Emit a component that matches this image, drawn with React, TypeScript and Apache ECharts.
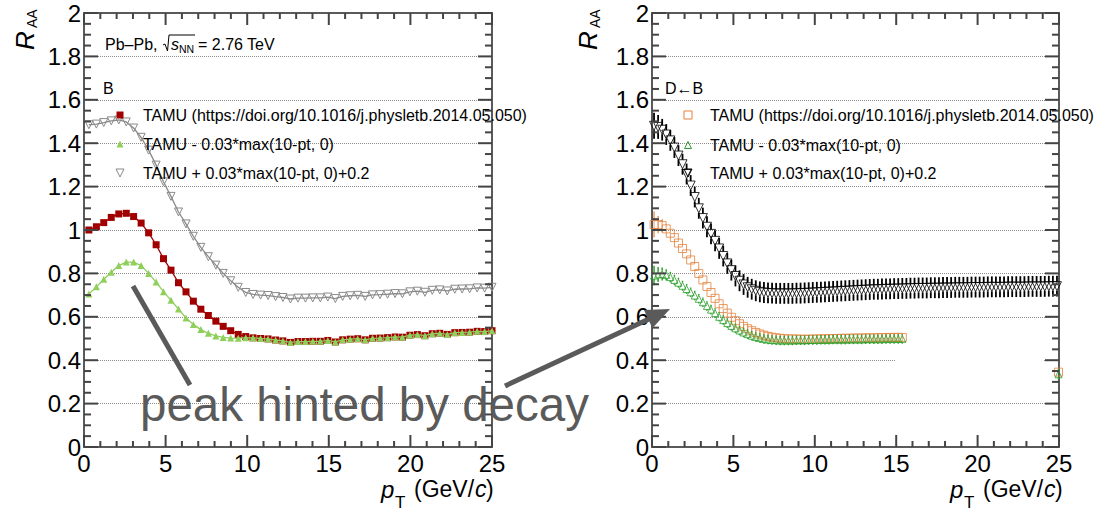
import React, { useEffect, useRef } from "react";
import * as echarts from "echarts";

const FONT = "'Liberation Sans', Arial, Helvetica, sans-serif";

// ---------- Axis tick positions ----------
const xMajorTicks = [0, 5, 10, 15, 20, 25];
const xMinorTicks = [1, 2, 3, 4, 6, 7, 8, 9, 11, 12, 13, 14, 16, 17, 18, 19, 21, 22, 23, 24];
const yMajorTicks = [0, 0.2, 0.4, 0.6, 0.8, 1, 1.2, 1.4, 1.6, 1.8, 2];
const yMinorTicks = [
  0.05, 0.1, 0.15, 0.25, 0.3, 0.35, 0.45, 0.5, 0.55, 0.65, 0.7, 0.75, 0.85, 0.9, 0.95, 1.05, 1.1, 1.15,
  1.25, 1.3, 1.35, 1.45, 1.5, 1.55, 1.65, 1.7, 1.75, 1.85, 1.9, 1.95,
];

// ---------- Left panel (B) ----------
const leftPt = [
  0.3, 0.76, 1.21, 1.67, 2.13, 2.59, 3.04, 3.5, 3.96, 4.42, 4.87, 5.33, 5.79, 6.25, 6.7, 7.16, 7.62, 8.08,
  8.53, 8.99, 9.45, 9.91, 10.36, 10.82, 11.28, 11.74, 12.19, 12.65, 13.11, 13.57, 14.02, 14.48, 14.94,
  15.4, 15.85, 16.31, 16.77, 17.23, 17.68, 18.14, 18.6, 19.06, 19.51, 19.97, 20.43, 20.89, 21.34, 21.8,
  22.26, 22.72, 23.17, 23.63, 24.09, 24.55, 25.0,
];
const leftTamu = [
  1.0, 1.015, 1.034, 1.058, 1.074, 1.077, 1.062, 1.032, 0.987, 0.932, 0.868, 0.815, 0.757, 0.715, 0.672,
  0.635, 0.606, 0.58, 0.556, 0.536, 0.519, 0.509, 0.503, 0.5, 0.498, 0.493, 0.489, 0.482, 0.486, 0.486,
  0.487, 0.487, 0.491, 0.484, 0.494, 0.497, 0.499, 0.494, 0.501, 0.502, 0.504, 0.507, 0.506, 0.515, 0.518,
  0.513, 0.522, 0.524, 0.519, 0.527, 0.528, 0.529, 0.533, 0.532, 0.536,
];
const leftLower = [
  0.705, 0.738, 0.773, 0.805, 0.836, 0.852, 0.852, 0.836, 0.8, 0.76, 0.716, 0.676, 0.636, 0.595, 0.565,
  0.541, 0.524, 0.512, 0.505, 0.502, 0.501, 0.504, 0.503, 0.5, 0.498, 0.493, 0.489, 0.482, 0.486, 0.486,
  0.487, 0.487, 0.491, 0.484, 0.494, 0.497, 0.499, 0.494, 0.501, 0.502, 0.504, 0.507, 0.506, 0.515, 0.518,
  0.513, 0.522, 0.524, 0.519, 0.527, 0.528, 0.529, 0.533, 0.532, 0.536,
];
const leftUpper = [
  1.485, 1.488, 1.495, 1.503, 1.507, 1.498, 1.47, 1.427, 1.368, 1.299, 1.222, 1.155, 1.083, 1.028, 0.971,
  0.92, 0.877, 0.838, 0.8, 0.766, 0.736, 0.712, 0.703, 0.7, 0.698, 0.693, 0.689, 0.682, 0.686, 0.686, 0.687,
  0.687, 0.691, 0.684, 0.694, 0.697, 0.699, 0.694, 0.701, 0.702, 0.704, 0.707, 0.706, 0.715, 0.718, 0.713,
  0.722, 0.724, 0.719, 0.727, 0.728, 0.729, 0.733, 0.732, 0.736,
];

// ---------- Right panel (D<-B) ----------
const rightPt = [
  0.125, 0.375, 0.625, 0.875, 1.125, 1.375, 1.625, 1.875, 2.125, 2.375, 2.625, 2.875, 3.125, 3.375, 3.625,
  3.875, 4.125, 4.375, 4.625, 4.875, 5.125, 5.375, 5.625, 5.875, 6.125, 6.375, 6.625, 6.875, 7.125, 7.375,
  7.625, 7.875, 8.125, 8.375, 8.625, 8.875, 9.125, 9.375, 9.625, 9.875, 10.125, 10.375, 10.625, 10.875,
  11.125, 11.375, 11.625, 11.875, 12.125, 12.375, 12.625, 12.875, 13.125, 13.375, 13.625, 13.875, 14.125,
  14.375, 14.625, 14.875, 15.125, 15.375, 15.625, 15.875, 16.125, 16.375, 16.625, 16.875, 17.125, 17.375,
  17.625, 17.875, 18.125, 18.375, 18.625, 18.875, 19.125, 19.375, 19.625, 19.875, 20.125, 20.375, 20.625,
  20.875, 21.125, 21.375, 21.625, 21.875, 22.125, 22.375, 22.625, 22.875, 23.125, 23.375, 23.625, 23.875,
  24.125, 24.375, 24.625, 24.875,
];
const rightTamu = [
  1.025, 1.025, 1.02, 1.005, 0.985, 0.965, 0.94, 0.915, 0.89, 0.862, 0.832, 0.8, 0.77, 0.74, 0.712, 0.685,
  0.66, 0.638, 0.617, 0.598, 0.582, 0.568, 0.556, 0.545, 0.536, 0.528, 0.521, 0.515, 0.51, 0.506, 0.503,
  0.501, 0.499, 0.498, 0.498, 0.497, 0.497, 0.496, 0.497, 0.497, 0.498, 0.498, 0.499, 0.499, 0.5, 0.5,
  0.501, 0.501, 0.501, 0.502, 0.502, 0.502, 0.503, 0.503, 0.503, 0.504, 0.504, 0.504, 0.505, 0.505, 0.505,
  0.505,
];
const rightTamuErr = [
  0.06, 0.04, 0.03, 0.02, 0.016, 0.015, 0.015, 0.015, 0.014, 0.014, 0.014, 0.013, 0.013, 0.013, 0.013,
  0.012, 0.012, 0.012, 0.012, 0.012, 0.012, 0.012, 0.012, 0.012, 0.012, 0.012, 0.012, 0.012, 0.012, 0.012,
  0.012, 0.012, 0.012, 0.012, 0.012, 0.012, 0.012, 0.012, 0.012, 0.012, 0.012, 0.012, 0.012, 0.012, 0.012,
  0.012, 0.012, 0.012, 0.012, 0.012, 0.012, 0.012, 0.012, 0.012, 0.012, 0.012, 0.012, 0.012, 0.012, 0.012,
  0.012, 0.012,
];
const rightLower = [
  0.79, 0.795, 0.797, 0.793, 0.783, 0.77, 0.757, 0.743, 0.728, 0.713, 0.698, 0.683, 0.667, 0.65, 0.633,
  0.617, 0.6, 0.585, 0.571, 0.558, 0.547, 0.537, 0.528, 0.52, 0.513, 0.507, 0.502, 0.498, 0.495, 0.493,
  0.492, 0.491, 0.491, 0.491, 0.491, 0.492, 0.492, 0.492, 0.493, 0.493, 0.493, 0.494, 0.494, 0.494, 0.495,
  0.495, 0.495, 0.495, 0.496, 0.496, 0.496, 0.496, 0.497, 0.497, 0.497, 0.497, 0.497, 0.498, 0.498, 0.498,
  0.498, 0.498,
];
const rightLowerErr = [
  0.045, 0.035, 0.03, 0.026, 0.024, 0.024, 0.023, 0.023, 0.023, 0.022, 0.022, 0.022, 0.022, 0.022, 0.022,
  0.022, 0.022, 0.022, 0.022, 0.022, 0.022, 0.022, 0.022, 0.022, 0.022, 0.022, 0.022, 0.022, 0.022, 0.022,
  0.022, 0.022, 0.022, 0.022, 0.022, 0.022, 0.022, 0.022, 0.022, 0.022, 0.022, 0.022, 0.022, 0.022, 0.022,
  0.022, 0.022, 0.022, 0.022, 0.022, 0.022, 0.022, 0.022, 0.022, 0.022, 0.022, 0.022, 0.022, 0.022, 0.022,
  0.022, 0.022,
];
const rightUpper = [
  1.48, 1.475, 1.462, 1.44, 1.413, 1.38, 1.343, 1.303, 1.258, 1.205, 1.152, 1.1, 1.055, 1.015, 0.982, 0.95,
  0.915, 0.88, 0.846, 0.815, 0.788, 0.766, 0.749, 0.736, 0.727, 0.72, 0.715, 0.712, 0.71, 0.709, 0.708,
  0.708, 0.708, 0.708, 0.708, 0.709, 0.709, 0.71, 0.711, 0.712, 0.713, 0.714, 0.715, 0.716, 0.717, 0.718,
  0.719, 0.72, 0.721, 0.722, 0.723, 0.724, 0.725, 0.726, 0.727, 0.727, 0.728, 0.729, 0.729, 0.73, 0.73,
  0.731, 0.731, 0.732, 0.732, 0.733, 0.733, 0.733, 0.734, 0.734, 0.734, 0.735, 0.735, 0.735, 0.736, 0.736,
  0.736, 0.736, 0.737, 0.737, 0.737, 0.737, 0.738, 0.738, 0.738, 0.738, 0.738, 0.739, 0.739, 0.739, 0.739,
  0.739, 0.74, 0.74, 0.74, 0.74, 0.74, 0.741, 0.741, 0.741,
];
const rightUpperErr = [
  0.06, 0.055, 0.05, 0.048, 0.048, 0.048, 0.048, 0.048, 0.048, 0.048, 0.048, 0.048, 0.048, 0.048, 0.048,
  0.048, 0.048, 0.048, 0.048, 0.048, 0.048, 0.048, 0.048, 0.048, 0.048, 0.048, 0.048, 0.048, 0.048, 0.048,
  0.048, 0.048, 0.048, 0.048, 0.048, 0.048, 0.048, 0.048, 0.048, 0.048, 0.048, 0.048, 0.048, 0.048, 0.048,
  0.048, 0.048, 0.048, 0.048, 0.048, 0.048, 0.048, 0.048, 0.048, 0.048, 0.048, 0.048, 0.048, 0.048, 0.048,
  0.048, 0.048, 0.048, 0.048, 0.048, 0.048, 0.048, 0.048, 0.048, 0.048, 0.048, 0.048, 0.048, 0.048, 0.048,
  0.048, 0.048, 0.048, 0.048, 0.048, 0.048, 0.048, 0.048, 0.048, 0.048, 0.048, 0.048, 0.048, 0.048, 0.048,
  0.048, 0.048, 0.048, 0.048, 0.048, 0.048, 0.048, 0.048, 0.048, 0.048,
];
// lone points at the right edge of the D<-B panel
const rightTailPt = [24.97];
const rightTailTamu = [0.345];
const rightTailTamuErr = [0.01];
const rightTailLower = [0.335];
const rightTailLowerErr = [0.025];

const legendLabels = [
  "TAMU (https://doi.org/10.1016/j.physletb.2014.05.050)",
  "TAMU - 0.03*max(10-pt, 0)",
  "TAMU + 0.03*max(10-pt, 0)+0.2",
];

const C_RED = "#a00000";
const C_LGREEN = "#8fcf5c";
const C_GRAY = "#8a8a8a";
const C_ORANGE = "#e3823c";
const C_GREEN = "#2ca02c";
const C_BLACK = "#000000";
const C_AXIS = "#5a5a5a";
const C_TICK = "#444444";
const C_NOTE = "#5a5a5a";

const X_MIN = 0;
const X_MAX = 25;
const Y_MIN = 0;
const Y_MAX = 2;

const pairs = (xs: number[], ys: number[]) => ys.map((y, i) => [xs[i], y]);
const triples = (xs: number[], ys: number[], es: number[]) => ys.map((y, i) => [xs[i], y, es[i]]);

const errRender = (color: string, width: number, gap: number) => (params: any, api: any) => {
  const x = api.value(0);
  const y = api.value(1);
  const e = api.value(2);
  const top = api.coord([x, y + e]);
  const mid = api.coord([x, y]);
  const bot = api.coord([x, y - e]);
  const children: any[] = [];
  if (mid[1] - gap > top[1]) {
    children.push({
      type: "line",
      shape: { x1: top[0], y1: top[1], x2: mid[0], y2: mid[1] - gap },
      style: { stroke: color, lineWidth: width },
    });
  }
  if (bot[1] > mid[1] + gap) {
    children.push({
      type: "line",
      shape: { x1: mid[0], y1: mid[1] + gap, x2: bot[0], y2: bot[1] },
      style: { stroke: color, lineWidth: width },
    });
  }
  return { type: "group", children };
};

const txt = (
  x: number,
  y: number,
  text: string,
  size: number,
  opts: { italic?: boolean; align?: string; color?: string; rotation?: number } = {}
) => ({
  type: "text",
  x,
  y,
  z: 20,
  rotation: opts.rotation || 0,
  silent: true,
  style: {
    text,
    fill: opts.color || "#000",
    font: `${opts.italic ? "italic " : ""}${size}px ${FONT}`,
    textAlign: opts.align || "left",
    align: opts.align || "left",
    textVerticalAlign: "middle",
    verticalAlign: "middle",
  },
});

const triPts = (cx: number, cy: number, s: number, down: boolean) =>
  down
    ? [
        [cx - s / 2, cy - s / 2],
        [cx + s / 2, cy - s / 2],
        [cx, cy + s / 2],
      ]
    : [
        [cx, cy - s / 2],
        [cx + s / 2, cy + s / 2],
        [cx - s / 2, cy + s / 2],
      ];

const axisLineStyle = { color: C_AXIS, width: 2 };

const xAxisBase = (gridIndex: number, position: "top" | "bottom", labels: boolean) => ({
  type: "value",
  gridIndex,
  position,
  min: X_MIN,
  max: X_MAX,
  interval: 5,
  axisLine: { show: true, onZero: false, lineStyle: axisLineStyle },
  axisTick: { show: false },
  minorTick: { show: false },
  splitLine: { show: false },
  axisLabel: { show: labels, fontSize: 24, fontFamily: FONT, color: "#000", margin: 4 },
});

const yAxisBase = (gridIndex: number, position: "left" | "right", labels: boolean) => ({
  type: "value",
  gridIndex,
  position,
  min: Y_MIN,
  max: Y_MAX,
  interval: 0.2,
  axisLine: { show: true, onZero: false, lineStyle: axisLineStyle },
  axisTick: { show: false },
  minorTick: { show: false },
  splitLine: { show: labels, lineStyle: { type: "dotted", color: "#8c8c8c", width: 1 } },
  axisLabel: { show: labels, fontSize: 24, fontFamily: FONT, color: "#000", margin: 3 },
});

function buildGraphic(): any[] {
  return [
    { type: "rect", z: 1, silent: true, shape: { x: 896, y: 356, width: 148, height: 8 }, style: { fill: "#fff" } },

    txt(25, 50, "R", 26, { italic: true, rotation: Math.PI / 2 }),
    txt(32, 28, "AA", 14, { rotation: Math.PI / 2 }),
    txt(588, 50, "R", 26, { italic: true, rotation: Math.PI / 2 }),
    txt(595, 28, "AA", 14, { rotation: Math.PI / 2 }),

    txt(381, 489, "p", 24, { italic: true }),
    txt(395, 502, "T", 17),
    txt(414, 489, "(GeV/", 23),
    txt(475, 489, "c", 23, { italic: true }),
    txt(486, 489, ")", 23),
    txt(950, 489, "p", 24, { italic: true }),
    txt(964, 502, "T", 17),
    txt(983, 489, "(GeV/", 23),
    txt(1044, 489, "c", 23, { italic: true }),
    txt(1055, 489, ")", 23),

    txt(105, 44, "Pb\u2013Pb,", 16),
    {
      type: "polyline",
      z: 20,
      silent: true,
      shape: { points: [[163, 45], [165, 44], [167.5, 51], [169, 35], [195, 35]] },
      style: { stroke: "#000", lineWidth: 1, fill: null },
    },
    txt(171, 44, "s", 16, { italic: true }),
    txt(179, 49, "NN", 10.5),
    txt(198, 44, "= 2.76 TeV", 16),
    txt(103, 88, "B", 16),

    { type: "rect", z: 20, silent: true, shape: { x: 116.5, y: 111.5, width: 7, height: 7 }, style: { fill: C_RED } },
    { type: "polygon", z: 20, silent: true, shape: { points: triPts(120, 144, 7, false) }, style: { fill: C_LGREEN } },
    {
      type: "polygon",
      z: 20,
      silent: true,
      shape: { points: triPts(120, 173, 8, true) },
      style: { fill: null, stroke: C_GRAY, lineWidth: 1 },
    },
    txt(143, 115, legendLabels[0], 16),
    txt(143, 144, legendLabels[1], 16),
    txt(143, 173, legendLabels[2], 16),

    txt(665, 88, "D\u2190B", 16),
    {
      type: "rect",
      z: 20,
      silent: true,
      shape: { x: 684, y: 111, width: 8, height: 8 },
      style: { fill: null, stroke: C_ORANGE, lineWidth: 1 },
    },
    {
      type: "polygon",
      z: 20,
      silent: true,
      shape: { points: triPts(688, 145, 7, false) },
      style: { fill: null, stroke: C_GREEN, lineWidth: 1 },
    },
    {
      type: "polygon",
      z: 20,
      silent: true,
      shape: { points: triPts(688, 173, 8, true) },
      style: { fill: null, stroke: C_BLACK, lineWidth: 1 },
    },
    txt(710, 115, legendLabels[0], 16),
    txt(710, 145, legendLabels[1], 16),
    txt(710, 173, legendLabels[2], 16),

    {
      type: "line",
      z: 30,
      silent: true,
      shape: { x1: 133, y1: 286, x2: 190, y2: 385 },
      style: { stroke: C_NOTE, lineWidth: 5 },
    },
    {
      type: "line",
      z: 30,
      silent: true,
      shape: { x1: 505, y1: 386, x2: 650, y2: 318.4 },
      style: { stroke: C_NOTE, lineWidth: 5 },
    },
    {
      type: "polygon",
      z: 30,
      silent: true,
      shape: { points: [[670, 309], [652.4, 328.3], [644.0, 310.1]] },
      style: { fill: C_NOTE },
    },
    { ...txt(140, 404, "peak hinted by decay", 47.5, { color: C_NOTE }), z: 30 },
  ];
}

// ROOT-style inward ticks on all four frame sides, placed through the chart's own axis scales
function buildTicks(chart: any, xAxisIndex: number, yAxisIndex: number): any[] {
  const px = (v: number) => chart.convertToPixel({ xAxisIndex }, v) as number;
  const py = (v: number) => chart.convertToPixel({ yAxisIndex }, v) as number;
  const xl = px(X_MIN);
  const xr = px(X_MAX);
  const yb = py(Y_MIN);
  const yt = py(Y_MAX);
  const els: any[] = [];
  const add = (x1: number, y1: number, x2: number, y2: number) =>
    els.push({
      type: "line",
      z: 15,
      silent: true,
      shape: { x1, y1, x2, y2 },
      style: { stroke: C_TICK, lineWidth: 2 },
    });
  const xt = (v: number, len: number) => {
    const x = px(v);
    add(x, yb, x, yb - len);
    add(x, yt, x, yt + len);
  };
  const yt2 = (v: number, len: number) => {
    const y = py(v);
    add(xl, y, xl + len, y);
    add(xr, y, xr - len, y);
  };
  xMajorTicks.forEach((v) => xt(v, 12));
  xMinorTicks.forEach((v) => xt(v, 6));
  yMajorTicks.forEach((v) => yt2(v, 14));
  yMinorTicks.forEach((v) => yt2(v, 7));
  return els;
}

function buildOption(): any {
  const series: any[] = [
    // Left panel
    {
      type: "line",
      name: "B upper",
      xAxisIndex: 0,
      yAxisIndex: 0,
      data: pairs(leftPt, leftUpper),
      symbol: "triangle",
      symbolRotate: 180,
      symbolSize: 8,
      showSymbol: true,
      itemStyle: { color: "rgba(255,255,255,0)", borderColor: C_GRAY, borderWidth: 1 },
      lineStyle: { color: C_GRAY, width: 1.3 },
      z: 3,
    },
    {
      type: "line",
      name: "B TAMU",
      xAxisIndex: 0,
      yAxisIndex: 0,
      data: pairs(leftPt, leftTamu),
      symbol: "rect",
      symbolSize: 7,
      showSymbol: true,
      itemStyle: { color: C_RED },
      lineStyle: { color: C_RED, width: 1.3 },
      z: 4,
    },
    {
      type: "line",
      name: "B lower",
      xAxisIndex: 0,
      yAxisIndex: 0,
      data: pairs(leftPt, leftLower),
      symbol: "triangle",
      symbolSize: 7,
      showSymbol: true,
      itemStyle: { color: C_LGREEN },
      lineStyle: { color: C_LGREEN, width: 1.3 },
      z: 5,
    },
    // Right panel: error bars + markers
    {
      type: "custom",
      name: "DB TAMU err",
      xAxisIndex: 2,
      yAxisIndex: 2,
      renderItem: errRender(C_ORANGE, 1.2, 4),
      data: triples(rightPt, rightTamu, rightTamuErr).concat(
        triples(rightTailPt, rightTailTamu, rightTailTamuErr)
      ),
      z: 3,
    },
    {
      type: "scatter",
      name: "DB TAMU",
      xAxisIndex: 2,
      yAxisIndex: 2,
      data: pairs(rightPt, rightTamu).concat(pairs(rightTailPt, rightTailTamu)),
      symbol: "rect",
      symbolSize: 8,
      itemStyle: { color: "rgba(255,255,255,0)", borderColor: C_ORANGE, borderWidth: 1 },
      z: 4,
    },
    {
      type: "custom",
      name: "DB lower err",
      xAxisIndex: 2,
      yAxisIndex: 2,
      renderItem: errRender(C_GREEN, 1.5, 3.5),
      data: triples(rightPt, rightLower, rightLowerErr).concat(
        triples(rightTailPt, rightTailLower, rightTailLowerErr)
      ),
      z: 5,
    },
    {
      type: "scatter",
      name: "DB lower",
      xAxisIndex: 2,
      yAxisIndex: 2,
      data: pairs(rightPt, rightLower).concat(pairs(rightTailPt, rightTailLower)),
      symbol: "triangle",
      symbolSize: 7,
      itemStyle: { color: "rgba(255,255,255,0)", borderColor: C_GREEN, borderWidth: 1 },
      z: 6,
    },
    {
      type: "custom",
      name: "DB upper err",
      xAxisIndex: 2,
      yAxisIndex: 2,
      renderItem: errRender(C_BLACK, 1.8, 4.5),
      data: triples(rightPt, rightUpper, rightUpperErr),
      z: 5,
    },
    {
      type: "scatter",
      name: "DB upper",
      xAxisIndex: 2,
      yAxisIndex: 2,
      data: pairs(rightPt, rightUpper),
      symbol: "triangle",
      symbolRotate: 180,
      symbolSize: 9,
      itemStyle: { color: "rgba(255,255,255,0)", borderColor: C_BLACK, borderWidth: 1 },
      z: 6,
    },
  ];

  return {
    animation: false,
    backgroundColor: "#ffffff",
    grid: [
      { left: 84, top: 13, width: 408, height: 434, containLabel: false },
      { left: 652, top: 13, width: 407, height: 434, containLabel: false },
    ],
    xAxis: [
      xAxisBase(0, "bottom", true),
      xAxisBase(0, "top", false),
      xAxisBase(1, "bottom", true),
      xAxisBase(1, "top", false),
    ],
    yAxis: [
      yAxisBase(0, "left", true),
      yAxisBase(0, "right", false),
      yAxisBase(1, "left", true),
      yAxisBase(1, "right", false),
    ],
    series,
  };
}

export default function App() {
  const ref = useRef<HTMLDivElement>(null);
  useEffect(() => {
    if (!ref.current) return;
    const chart = echarts.init(ref.current, undefined, { renderer: "svg" });
    chart.setOption(buildOption());
    let ticks: any[] = [];
    try {
      ticks = buildTicks(chart, 0, 0).concat(buildTicks(chart, 2, 2));
    } catch (e) {
      ticks = [];
    }
    chart.setOption({ graphic: buildGraphic().concat(ticks) });
    return () => chart.dispose();
  }, []);
  return (
    <div
      ref={ref}
      style={{ position: "fixed", left: 0, top: 0, width: 1097, height: 510, background: "#fff" }}
    />
  );
}
